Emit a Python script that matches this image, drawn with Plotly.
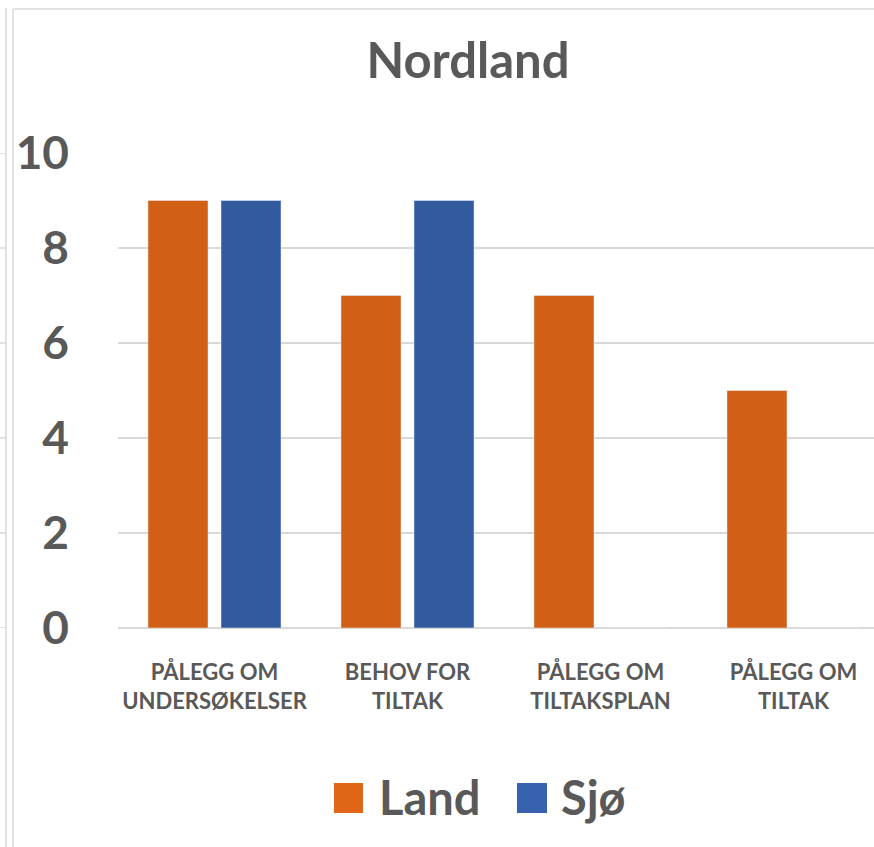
import plotly.graph_objects as go

categories = ["PÅLEGG OM<br>UNDERSØKELSER", "BEHOV FOR<br>TILTAK", "PÅLEGG OM<br>TILTAKSPLAN", "PÅLEGG OM<br>TILTAK"]
land = [9, 7, 7, 5]
sjo = [9, 9, 0, 0]
y_ticks = [0, 2, 4, 6, 8, 10]

LAND_COLOR = "#D15F15"
SJO_COLOR = "#335A9F"
TEXT = "#595959"
GRID = "#D9D9D9"
FONT = "Lato"

W, H = 874, 847
ML, MR, MT, MB = 118, 0, 153, 219
PW = W - ML - MR
PH = H - MT - MB


def px_x(p):
    return (p - ML) / PW


def px_y(p):
    return (H - MB - p) / PH


fig = go.Figure()
fig.add_trace(go.Bar(x=categories, y=land, name="Land", marker=dict(color=LAND_COLOR), showlegend=False))
fig.add_trace(go.Bar(x=categories, y=sjo, name="Sjø", marker=dict(color=SJO_COLOR), showlegend=False))

shapes = []
line_style = dict(color="#D9D9D9", width=1.5)
# neighbouring frame lines at the left edge and the chart border
shapes.append(dict(type="line", xref="paper", yref="paper", x0=px_x(6), x1=px_x(6), y0=px_y(8), y1=px_y(H), line=line_style))
shapes.append(dict(type="line", xref="paper", yref="paper", x0=px_x(13), x1=px_x(13), y0=px_y(9), y1=px_y(H), line=line_style))
shapes.append(dict(type="line", xref="paper", yref="paper", x0=px_x(13), x1=px_x(W), y0=px_y(9), y1=px_y(9), line=line_style))
for v in y_ticks:
    shapes.append(dict(type="line", xref="paper", yref="y", x0=px_x(0), x1=px_x(6), y0=v, y1=v, line=line_style))

# legend squares
shapes.append(dict(type="rect", xref="paper", yref="paper", x0=px_x(334), x1=px_x(363), y0=px_y(813), y1=px_y(783),
                   fillcolor="#E06516", line=dict(width=0)))
shapes.append(dict(type="rect", xref="paper", yref="paper", x0=px_x(517), x1=px_x(547), y0=px_y(813), y1=px_y(783),
                   fillcolor="#3762B0", line=dict(width=0)))

annotations = [
    dict(text="Land", xref="paper", yref="paper", x=px_x(377), y=px_y(797), xanchor="left", yanchor="middle",
         showarrow=False, font=dict(family=FONT, size=47, color=TEXT, weight="bold")),
    dict(text="Sjø", xref="paper", yref="paper", x=px_x(559), y=px_y(797), xanchor="left", yanchor="middle",
         showarrow=False, font=dict(family=FONT, size=47, color=TEXT, weight="bold")),
]

fig.update_layout(
    width=W, height=H,
    margin=dict(l=ML, r=MR, t=MT, b=MB, autoexpand=False),
    paper_bgcolor="white", plot_bgcolor="white",
    barmode="group", bargap=0.2435, bargroupgap=0.178,
    title=dict(text="Nordland", x=468 / W, xref="container", xanchor="center",
               y=1 - 61 / H, yref="container", yanchor="middle",
               font=dict(family=FONT, size=49, color=TEXT, weight="bold")),
    xaxis=dict(range=[-0.5, PW / 193 - 0.5], showgrid=False, showline=False, ticks="",
               tickfont=dict(family=FONT, size=22, color=TEXT, weight="bold"), ticklabelstandoff=29),
    yaxis=dict(range=[0, 10], tickvals=y_ticks, showgrid=True, gridcolor=GRID, gridwidth=1.5,
               zeroline=True, zerolinecolor=GRID, zerolinewidth=1.5, showline=False, ticks="",
               tickfont=dict(family=FONT, size=46, color=TEXT, weight="bold"), ticklabelstandoff=48),
    shapes=shapes,
    annotations=annotations,
    showlegend=False,
)

fig.write_html("out.html", config={"displayModeBar": False},
               post_script="document.body.style.margin='0';")
